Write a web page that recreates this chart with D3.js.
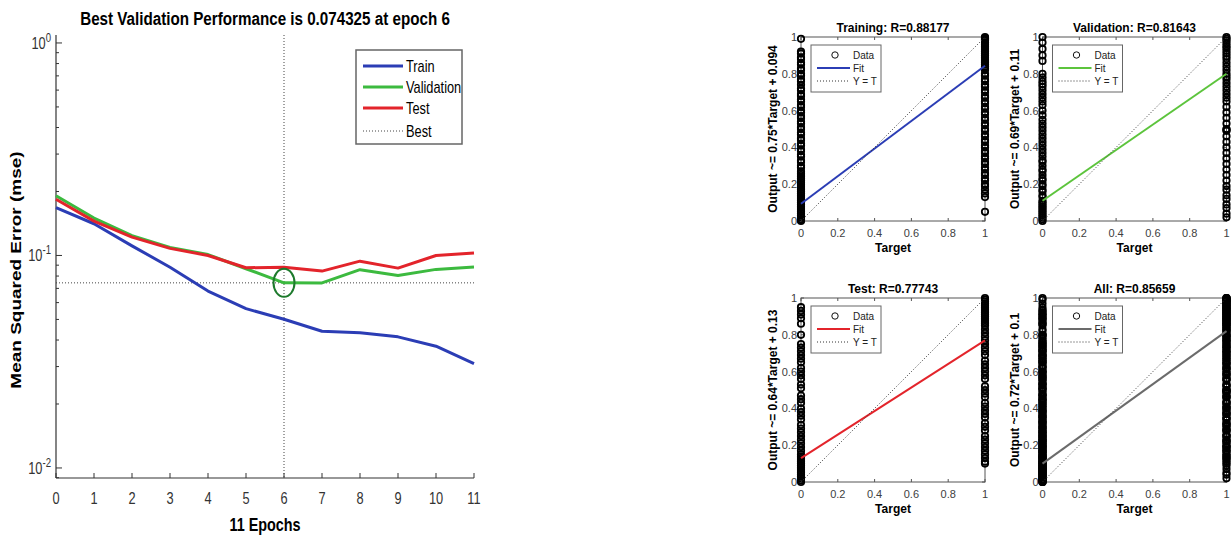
<!DOCTYPE html>
<html>
<head>
<meta charset="utf-8">
<script src="https://cdn.jsdelivr.net/npm/d3@7"></script>
<style>
  body { margin: 0; background: #fff; }
  svg { display: block; font-family: "Liberation Sans", Arial, sans-serif; }
</style>
</head>
<body>
<script>
var width = 1231, height = 539;

// ---- performance plot data
var epochs = [0, 1, 2, 3, 4, 5, 6, 7, 8, 9, 10, 11];
var trainPerf = [0.168, 0.141, 0.111, 0.088, 0.068, 0.0562, 0.0501, 0.0440, 0.0433, 0.0414, 0.0374, 0.0310];
var valPerf   = [0.191, 0.150, 0.124, 0.109, 0.101, 0.0866, 0.074325, 0.0743, 0.0857, 0.0805, 0.0860, 0.0882];
var testPerf  = [0.184, 0.145, 0.122, 0.108, 0.100, 0.0875, 0.0881, 0.0844, 0.0940, 0.0872, 0.1000, 0.1026];
var bestEpoch = 6, bestPerf = 0.074325;
var perfSeries = ["Train", "Validation", "Test"];
var perfColors = ["#2b3db5", "#3cba3f", "#e3242b"];

// ---- regression plots data (outputs for target 0 and target 1)
var trainT0 = [0.99, 0.92, 0.91, 0.89, 0.88, 0.86, 0.85, 0.83, 0.82, 0.80, 0.79, 0.77, 0.76, 0.74, 0.72, 0.71, 0.69, 0.68,
  0.66, 0.65, 0.63, 0.62, 0.60, 0.59, 0.57, 0.56, 0.54, 0.53, 0.51, 0.50, 0.48, 0.47, 0.45, 0.44, 0.42, 0.41, 0.39, 0.38,
  0.36, 0.35, 0.33, 0.32, 0.30, 0.29, 0.27, 0.26, 0.25, 0.24, 0.23, 0.22, 0.21, 0.20, 0.19, 0.18, 0.17, 0.16, 0.15, 0.14,
  0.13, 0.12, 0.11, 0.10, 0.09, 0.08, 0.07, 0.06, 0.05, 0.04, 0.03, 0.02, 0.01, 0.005, 0];
var trainT1 = [1, 0.995, 0.99, 0.985, 0.98, 0.97, 0.96, 0.95, 0.94, 0.93, 0.92, 0.91, 0.90, 0.89, 0.88, 0.87, 0.86, 0.85,
  0.84, 0.83, 0.82, 0.80, 0.79, 0.77, 0.76, 0.74, 0.73, 0.71, 0.70, 0.68, 0.67, 0.65, 0.64, 0.62, 0.61, 0.59, 0.58, 0.56,
  0.55, 0.53, 0.52, 0.50, 0.49, 0.47, 0.46, 0.44, 0.43, 0.41, 0.40, 0.38, 0.37, 0.35, 0.34, 0.32, 0.31, 0.29, 0.28, 0.26,
  0.25, 0.23, 0.22, 0.20, 0.19, 0.17, 0.15, 0.13, 0.05];
var valT0 = [1.0, 0.97, 0.935, 0.90, 0.87, 0.80, 0.78, 0.76, 0.745, 0.73, 0.71, 0.69, 0.67, 0.65, 0.63, 0.60, 0.575, 0.55,
  0.53, 0.51, 0.49, 0.47, 0.45, 0.43, 0.41, 0.39, 0.37, 0.35, 0.33, 0.32, 0.30, 0.28, 0.27, 0.25, 0.23, 0.22, 0.20, 0.19,
  0.17, 0.16, 0.14, 0.13, 0.11, 0.10, 0.09, 0.08, 0.07, 0.06, 0.05, 0.04, 0.03, 0.02, 0.01, 0];
var valT1 = [1, 0.99, 0.98, 0.965, 0.95, 0.94, 0.925, 0.91, 0.895, 0.88, 0.86, 0.84, 0.82, 0.80, 0.785, 0.77, 0.75, 0.73,
  0.71, 0.69, 0.67, 0.65, 0.62, 0.59, 0.56, 0.53, 0.50, 0.495, 0.49, 0.46, 0.43, 0.40, 0.37, 0.34, 0.31, 0.28, 0.25, 0.22,
  0.19, 0.17, 0.14, 0.12, 0.09, 0.07, 0.04, 0.02];
var testT0 = [0.95, 0.93, 0.91, 0.89, 0.86, 0.80, 0.75, 0.73, 0.71, 0.69, 0.67, 0.65, 0.62, 0.60, 0.58, 0.56, 0.53, 0.51,
  0.47, 0.45, 0.43, 0.40, 0.38, 0.36, 0.34, 0.31, 0.29, 0.27, 0.25, 0.23, 0.21, 0.19, 0.17, 0.15, 0.14, 0.13, 0.12, 0.11,
  0.10, 0.09, 0.08, 0.07, 0.06, 0.05, 0.04, 0.03, 0.02, 0.01, 0];
var testT1 = [1, 0.99, 0.98, 0.97, 0.96, 0.95, 0.94, 0.93, 0.92, 0.91, 0.90, 0.89, 0.88, 0.87, 0.86, 0.85, 0.83, 0.81,
  0.79, 0.77, 0.75, 0.73, 0.71, 0.69, 0.66, 0.64, 0.62, 0.60, 0.58, 0.56, 0.52, 0.50, 0.48, 0.46, 0.43, 0.41, 0.39, 0.37,
  0.35, 0.32, 0.30, 0.28, 0.25, 0.23, 0.21, 0.19, 0.17, 0.15, 0.13, 0.11, 0.10];
// "All" is the union of the three sets
var allT0 = trainT0.concat(valT0, testT0);
var allT1 = trainT1.concat(valT1, testT1);

var regTitles = ["Training: R=0.88177", "Validation: R=0.81643", "Test: R=0.77743", "All: R=0.85659"];
var regSlopes = [0.75, 0.69, 0.64, 0.72];
var regOffsets = [0.094, 0.11, 0.13, 0.1];
var regYLabels = ["Output ~= 0.75*Target + 0.094", "Output ~= 0.69*Target + 0.11",
                  "Output ~= 0.64*Target + 0.13", "Output ~= 0.72*Target + 0.1"];
var regColors = ["#2b3db5", "#5cc43c", "#e3242b", "#6b6b6b"];
var regPoints = [[trainT0, trainT1], [valT0, valT1], [testT0, testT1], [allT0, allT1]];
var regTicks = [0, 0.2, 0.4, 0.6, 0.8, 1];

var svg = d3.select("body").append("svg")
  .attr("width", width)
  .attr("height", height);

// the left figure is horizontally squeezed in the source picture
var sx = 0.8;
function squeezedText(g, x, y, str, size, weight, anchor) {
  return g.append("text")
    .attr("transform", "translate(" + x + "," + y + ") scale(" + sx + ",1)")
    .attr("font-size", size + "px")
    .attr("font-weight", weight || "normal")
    .attr("text-anchor", anchor || "middle")
    .text(str);
}

// ================= performance plot
var perf = svg.append("g");
var x = d3.scaleLinear().domain([0, 11]).range([56, 474]);
var y = d3.scaleLog().domain([0.00897, 1.09]).range([478, 35]);

squeezedText(perf, 265, 25, "Best Validation Performance is 0.074325 at epoch 6", 19, "bold");
squeezedText(perf, 265, 531, "11 Epochs", 18, "bold");
perf.append("text")
  .attr("transform", "translate(21,270) scale(" + sx + ",1) rotate(-90)")
  .attr("font-size", "19px")
  .attr("font-weight", "bold")
  .attr("text-anchor", "middle")
  .text("Mean Squared Error  (mse)");

// axes lines
perf.append("line").attr("x1", x(0)).attr("x2", x(0)).attr("y1", y.range()[1]).attr("y2", y.range()[0])
  .attr("stroke", "#333").attr("stroke-width", 1.2);
perf.append("line").attr("x1", x(0)).attr("x2", x(11)).attr("y1", y.range()[0]).attr("y2", y.range()[0])
  .attr("stroke", "#333").attr("stroke-width", 1.2);

// x ticks
epochs.forEach(function(e) {
  perf.append("line").attr("x1", x(e)).attr("x2", x(e)).attr("y1", y.range()[0]).attr("y2", y.range()[0] - 5)
    .attr("stroke", "#333");
  squeezedText(perf, x(e), 504, String(e), 16).attr("fill", "#333");
});

// y ticks (log, with minor ticks)
y.ticks().filter(function(t) { return t <= 1.0001; }).forEach(function(t) {
  var major = Math.abs(Math.log10(t) - Math.round(Math.log10(t))) < 1e-6;
  perf.append("line").attr("x1", x(0)).attr("x2", x(0) + (major ? 6 : 3))
    .attr("y1", y(t)).attr("y2", y(t)).attr("stroke", "#333");
  if (major) {
    var lab = perf.append("text")
      .attr("transform", "translate(51," + (y(t) + 6) + ") scale(" + sx + ",1)")
      .attr("text-anchor", "end")
      .attr("fill", "#333")
      .attr("font-size", "16px");
    lab.append("tspan").text("10");
    lab.append("tspan").attr("dy", -7).attr("font-size", "12px").text(String(Math.round(Math.log10(t))));
  }
});

// best markers
perf.append("line").attr("x1", x(bestEpoch)).attr("x2", x(bestEpoch)).attr("y1", y.range()[1]).attr("y2", y.range()[0])
  .attr("stroke", "#444").attr("stroke-dasharray", "1,2");
perf.append("line").attr("x1", x(0)).attr("x2", x(11)).attr("y1", y(bestPerf)).attr("y2", y(bestPerf))
  .attr("stroke", "#444").attr("stroke-dasharray", "1,2");

var line = d3.line().x(function(d, i) { return x(epochs[i]); }).y(function(d) { return y(d); });
[trainPerf, valPerf, testPerf].forEach(function(s, i) {
  perf.append("path").datum(s)
    .attr("d", line)
    .attr("fill", "none")
    .attr("stroke", perfColors[i])
    .attr("stroke-width", 3)
    .attr("stroke-linejoin", "round");
});
perf.append("ellipse")
  .attr("cx", x(bestEpoch)).attr("cy", y(bestPerf))
  .attr("rx", 10.5).attr("ry", 14)
  .attr("fill", "none").attr("stroke", "#1d7a2c").attr("stroke-width", 2);

// legend
var lg = perf.append("g");
lg.append("rect").attr("x", 356).attr("y", 50).attr("width", 106).attr("height", 94)
  .attr("fill", "#fff").attr("stroke", "#666").attr("stroke-width", 1.5);
var legendNames = perfSeries.concat(["Best"]);
var legendRows = [66, 87, 108, 131];
legendNames.forEach(function(n, i) {
  var l = lg.append("line").attr("x1", 363).attr("x2", 403).attr("y1", legendRows[i]).attr("y2", legendRows[i]);
  if (i < 3) l.attr("stroke", perfColors[i]).attr("stroke-width", 3);
  else l.attr("stroke", "#444").attr("stroke-dasharray", "1,2");
  squeezedText(lg, 406, legendRows[i] + 6, n, 16, "normal", "start");
});

// ================= regression plots
var panelLeft = [801, 1042.5, 801, 1042.5];
var panelTop = [37, 37, 298, 298];
var panelSize = 184;

regTitles.forEach(function(title, p) {
  var L = panelLeft[p], T = panelTop[p];
  var g = svg.append("g");
  var px = d3.scaleLinear().domain([0, 1]).range([L, L + panelSize]);
  var py = d3.scaleLinear().domain([0, 1]).range([T + panelSize, T]);

  g.append("rect").attr("x", L).attr("y", T).attr("width", panelSize).attr("height", panelSize)
    .attr("fill", "none").attr("stroke", "#555");

  regTicks.forEach(function(t) {
    // inside ticks on all four sides
    g.append("line").attr("x1", px(t)).attr("x2", px(t)).attr("y1", T + panelSize).attr("y2", T + panelSize - 3).attr("stroke", "#555");
    g.append("line").attr("x1", px(t)).attr("x2", px(t)).attr("y1", T).attr("y2", T + 3).attr("stroke", "#555");
    g.append("line").attr("y1", py(t)).attr("y2", py(t)).attr("x1", L).attr("x2", L + 3).attr("stroke", "#555");
    g.append("line").attr("y1", py(t)).attr("y2", py(t)).attr("x1", L + panelSize).attr("x2", L + panelSize - 3).attr("stroke", "#555");
    g.append("text").attr("x", px(t)).attr("y", T + panelSize + 16)
      .attr("text-anchor", "middle").attr("font-size", "11px").attr("fill", "#404040").text(String(t));
    g.append("text").attr("x", L - 4).attr("y", py(t) + 4)
      .attr("text-anchor", "end").attr("font-size", "11px").attr("fill", "#404040").text(String(t));
  });

  g.append("text").attr("x", L + panelSize / 2).attr("y", T - 5)
    .attr("text-anchor", "middle").attr("font-size", "12px").attr("font-weight", "bold").text(title);
  g.append("text").attr("x", L + panelSize / 2).attr("y", T + panelSize + 31)
    .attr("text-anchor", "middle").attr("font-size", "12px").attr("font-weight", "bold").text("Target");
  g.append("text")
    .attr("transform", "translate(" + (L - 24) + "," + (T + panelSize / 2) + ") rotate(-90)")
    .attr("text-anchor", "middle").attr("font-size", "12px").attr("font-weight", "bold").text(regYLabels[p]);

  // data points
  [0, 1].forEach(function(target) {
    g.selectAll(null).data(regPoints[p][target]).enter().append("circle")
      .attr("cx", px(target)).attr("cy", function(d) { return py(d); })
      .attr("r", 3.2).attr("fill", "none").attr("stroke", "#000").attr("stroke-width", 1.8);
  });

  // fit and Y = T
  g.append("line").attr("x1", px(0)).attr("y1", py(regOffsets[p]))
    .attr("x2", px(1)).attr("y2", py(regSlopes[p] + regOffsets[p]))
    .attr("stroke", regColors[p]).attr("stroke-width", 2);
  g.append("line").attr("x1", px(0)).attr("y1", py(0)).attr("x2", px(1)).attr("y2", py(1))
    .attr("stroke", "#333").attr("stroke-dasharray", "1,2");

  // legend
  var lx = L + 10, ly = T + 8;
  g.append("rect").attr("x", lx).attr("y", ly).attr("width", 70).attr("height", 47)
    .attr("fill", "#fff").attr("stroke", "#666");
  g.append("circle").attr("cx", L + 34).attr("cy", T + 18).attr("r", 3.2)
    .attr("fill", "none").attr("stroke", "#111");
  g.append("line").attr("x1", L + 16).attr("x2", L + 49).attr("y1", T + 31).attr("y2", T + 31)
    .attr("stroke", regColors[p]).attr("stroke-width", 2);
  g.append("line").attr("x1", L + 16).attr("x2", L + 49).attr("y1", T + 44).attr("y2", T + 44)
    .attr("stroke", "#333").attr("stroke-dasharray", "1,2");
  ["Data", "Fit", "Y = T"].forEach(function(s, i) {
    g.append("text").attr("x", L + 52).attr("y", T + 22 + i * 13)
      .attr("font-size", "10px").attr("fill", "#222").text(s);
  });
});
</script>
</body>
</html>
